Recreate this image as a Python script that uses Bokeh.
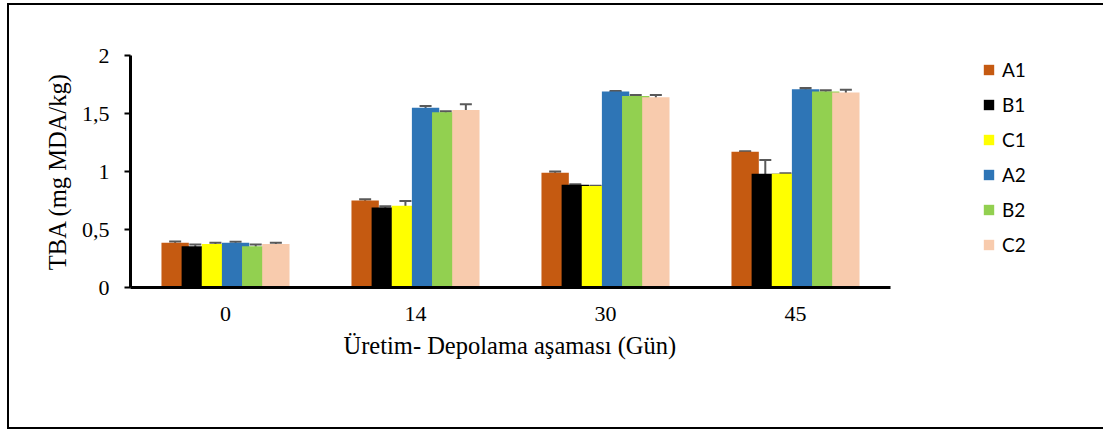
from bokeh.plotting import figure
from bokeh.models import (ColumnDataSource, FixedTicker, Legend, LegendItem,
                          Whisker, TeeHead, Title)
from bokeh.embed import file_html
from bokeh.resources import INLINE

# Storage days
days = ["0", "14", "30", "45"]

# TBA values (mg MDA/kg) per treatment
series_names = ["A1", "B1", "C1", "A2", "B2", "C2"]
A1 = [0.385, 0.75, 0.99, 1.17]
B1 = [0.355, 0.69, 0.885, 0.98]
C1 = [0.375, 0.705, 0.875, 0.98]
A2 = [0.385, 1.55, 1.69, 1.71]
B2 = [0.355, 1.51, 1.65, 1.69]
C2 = [0.375, 1.53, 1.64, 1.68]

# Standard deviations
A1_err = [0.012, 0.01, 0.01, 0.005]
B1_err = [0.015, 0.01, 0.005, 0.12]
C1_err = [0.01, 0.04, 0.003, 0.005]
A2_err = [0.01, 0.015, 0.005, 0.01]
B2_err = [0.015, 0.01, 0.01, 0.01]
C2_err = [0.01, 0.05, 0.02, 0.025]

y_ticks = [0, 0.5, 1, 1.5, 2]
y_tick_labels = ["0", "0,5", "1", "1,5", "2"]

colors = ["#C55A11", "#000000", "#FFFF00", "#2E75B6", "#92D050", "#F8CBAD"]
values = [A1, B1, C1, A2, B2, C2]
errors = [A1_err, B1_err, C1_err, A2_err, B2_err, C2_err]

SERIF = "Liberation Serif"

# one unit per storage day; the area right of the last day holds the legend
centers = [i + 0.5 for i in range(len(days))]

p = figure(width=1096, height=426, x_range=(0, 5), y_range=(0, 2),
           output_backend="svg", toolbar_location=None,
           min_border_left=121, min_border_right=25, min_border_top=50,
           min_border_bottom=144)
# thin black box around the chart (left, top and bottom edges)
p.styles = {"margin-left": "7px", "margin-top": "3px",
            "border-left": "2px solid black", "border-top": "2px solid black",
            "border-bottom": "2px solid black", "border-right": "0px none"}
p.outline_line_color = None
p.xgrid.grid_line_color = None
p.ygrid.grid_line_color = None

step = 0.106
bar_w = 0.144
renderers = []
for i, (name, vals, errs, col) in enumerate(zip(series_names, values, errors, colors)):
    off = (i - 2.5) * step
    src = ColumnDataSource(dict(x=[c + off for c in centers], val=vals,
                                upper=[v + e for v, e in zip(vals, errs)],
                                lower=[v - e for v, e in zip(vals, errs)]))
    r = p.vbar(x="x", top="val", width=bar_w, source=src,
               fill_color=col, line_color=None)
    renderers.append((name, r, src))

for name, r, src in renderers:
    p.add_layout(Whisker(base="x", upper="upper", lower="lower", source=src,
                         line_color="#595959", line_width=2,
                         upper_head=TeeHead(size=12, line_color="#595959", line_width=2),
                         lower_head=TeeHead(size=12, line_color="#595959", line_width=2)))

# axes
p.xaxis.ticker = FixedTicker(ticks=centers)
p.xaxis.major_label_overrides = {c: d for c, d in zip(centers, days)}
p.xaxis.bounds = (0, len(days))
p.xaxis.major_tick_line_color = None
p.xaxis.minor_tick_line_color = None
p.xaxis.major_tick_out = 0
p.xaxis.major_tick_in = 0
p.xaxis.axis_line_width = 3
p.xaxis.major_label_standoff = 19

p.yaxis.ticker = FixedTicker(ticks=y_ticks)
p.yaxis.major_label_overrides = {t: l for t, l in zip(y_ticks, y_tick_labels)}
p.yaxis.minor_tick_line_color = None
p.yaxis.major_tick_in = 0
p.yaxis.major_tick_out = 6
p.yaxis.major_tick_line_width = 2
p.yaxis.major_tick_line_color = "black"
p.yaxis.axis_line_width = 3
p.yaxis.major_label_standoff = 15
p.yaxis.axis_label = "TBA (mg MDA/kg)"
p.yaxis.axis_label_standoff = 8

for ax in (p.xaxis, p.yaxis):
    ax.axis_line_color = "black"
    ax.major_label_text_font = SERIF
    ax.major_label_text_font_size = "22px"
    ax.major_label_text_color = "black"
    ax.axis_label_text_font = SERIF
    ax.axis_label_text_font_size = "24.5px"
    ax.axis_label_text_font_style = "normal"
    ax.axis_label_text_color = "black"

# x-axis title, centred under the four day groups
x_title = Title(text="Üretim- Depolama aşaması (Gün)", align="left", offset=213,
                standoff=13, text_font=SERIF, text_font_size="24.5px",
                text_font_style="normal", text_color="black")
p.add_layout(x_title, "below")

legend = Legend(items=[LegendItem(label=n, renderers=[r]) for n, r, _ in renderers],
                location=(852, 31), orientation="vertical",
                glyph_width=13, glyph_height=13, label_height=13, spacing=12,
                label_standoff=7, padding=0, margin=0,
                border_line_color=None, background_fill_alpha=0,
                label_text_font="Lato", label_text_font_size="19px",
                label_text_color="black")
p.add_layout(legend)

open("out.html", "w").write(file_html(p, INLINE))
